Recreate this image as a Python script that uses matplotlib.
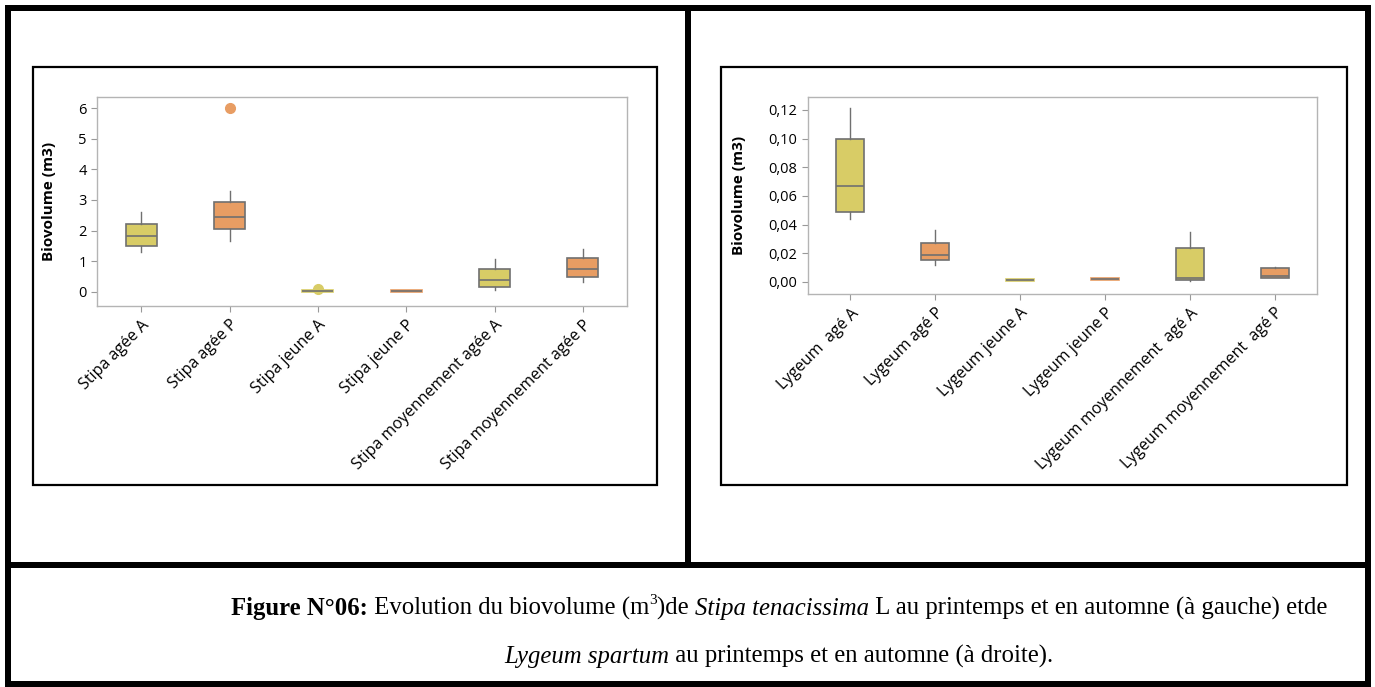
import matplotlib
matplotlib.use("Agg")
import matplotlib.pyplot as plt
from matplotlib.patches import Rectangle

plt.rcParams['font.family'] = ['Open Sans', 'DejaVu Sans']

# Stipa tenacissima : biovolume (m3) par classe d'âge et saison
stipa_labels = ["Stipa agée A", "Stipa agée P", "Stipa jeune A", "Stipa jeune P",
                "Stipa moyennement agée A", "Stipa moyennement agée P"]
stipa_whislo = [1.30, 1.65, 0.00, 0.00, 0.07, 0.33]
stipa_q1 = [1.50, 2.05, 0.00, 0.00, 0.15, 0.50]
stipa_med = [1.83, 2.45, 0.02, 0.02, 0.40, 0.75]
stipa_q3 = [2.20, 2.93, 0.05, 0.05, 0.75, 1.12]
stipa_whishi = [2.60, 3.30, 0.05, 0.05, 1.08, 1.40]
stipa_fliers = [[], [6.0], [0.10], [], [], []]

# Lygeum spartum : biovolume (m3)
lygeum_labels = ["Lygeum  agé A", "Lygeum agé P", "Lygeum jeune A", "Lygeum jeune P",
                 "Lygeum moyennement  agé A", "Lygeum moyennement  agé P"]
lygeum_whislo = [0.044, 0.012, 0.0005, 0.0012, 0.0010, 0.0030]
lygeum_q1 = [0.049, 0.015, 0.0005, 0.0012, 0.0015, 0.0030]
lygeum_med = [0.067, 0.019, 0.0012, 0.0020, 0.0030, 0.0040]
lygeum_q3 = [0.100, 0.027, 0.0020, 0.0028, 0.0240, 0.0100]
lygeum_whishi = [0.121, 0.036, 0.0020, 0.0028, 0.0350, 0.0105]
lygeum_fliers = [[], [], [], [], [], []]

season_colors = ["#d8cc66", "#e89d63"]  # A = automne, P = printemps
W, H = 1375, 687


def px_rect(x0, y0, x1, y1):
    # pixel box (top-left origin) -> figure fraction rect
    return [x0 / W, 1 - y1 / H, (x1 - x0) / W, (y1 - y0) / H]


def draw_box(ax, labels, whislo, q1, med, q3, whishi, fliers, width):
    stats = []
    for i in range(len(labels)):
        stats.append(dict(whislo=whislo[i], q1=q1[i], med=med[i], q3=q3[i],
                          whishi=whishi[i], fliers=fliers[i]))
    bp = ax.bxp(stats, positions=range(len(labels)), widths=width, patch_artist=True,
                showcaps=False,
                boxprops=dict(edgecolor="#707070", linewidth=1.2),
                medianprops=dict(color="#707070", linewidth=1.2),
                whiskerprops=dict(color="#707070", linewidth=1.0))
    for i, box in enumerate(bp['boxes']):
        c = season_colors[i % 2]
        box.set_facecolor(c)
        if q3[i] - q1[i] < (ax.get_ylim()[1] - ax.get_ylim()[0]) * 0.02:
            box.set_edgecolor(c)
        fl = bp['fliers'][i]
        fl.set_marker('o')
        fl.set_markerfacecolor(c)
        fl.set_markeredgecolor(c)
        fl.set_markersize(7)
    ax.set_xticks(range(len(labels)))
    ax.set_xticklabels(labels, rotation=45, ha='right', rotation_mode='anchor',
                       fontsize=11.5)
    ax.set_xlim(-0.5, len(labels) - 0.5)
    ax.set_ylabel("Biovolume (m3)", fontsize=11, fontweight='bold', labelpad=16)
    for s in ax.spines.values():
        s.set_color("#b4b4b4")
        s.set_linewidth(1.0)
    ax.tick_params(colors="#999999", labelcolor="black", length=4)
    ax.tick_params(axis='y', labelsize=10.5)
    ax.tick_params(axis='x', pad=4)


fig = plt.figure(figsize=(W / 100, H / 100), dpi=100)

ax1 = fig.add_axes(px_rect(97, 97, 627, 306))
ax1.set_ylim(-0.46, 6.36)
ax1.set_yticks([0, 1, 2, 3, 4, 5, 6])
draw_box(ax1, stipa_labels, stipa_whislo, stipa_q1, stipa_med, stipa_q3, stipa_whishi,
         stipa_fliers, 0.35)

ax2 = fig.add_axes(px_rect(808, 97, 1317, 294))
ax2.set_ylim(-0.0084, 0.129)
ax2.set_yticks([0, 0.02, 0.04, 0.06, 0.08, 0.10, 0.12])
ax2.set_yticklabels(["0,00", "0,02", "0,04", "0,06", "0,08", "0,10", "0,12"])
draw_box(ax2, lygeum_labels, lygeum_whislo, lygeum_q1, lygeum_med, lygeum_q3,
         lygeum_whishi, lygeum_fliers, 0.33)

# cadres des graphiques
for x0, x1 in [(33, 657), (721, 1347)]:
    fig.add_artist(Rectangle((x0 / W, 1 - 485 / H), (x1 - x0) / W, 418 / H,
                             transform=fig.transFigure, fill=False,
                             edgecolor="black", linewidth=1.6))

# bordures épaisses du tableau
thick = dict(transform=fig.transFigure, color="black", linewidth=0)
for r in [(5, 5, 1371, 11), (5, 681, 1371, 687), (5, 5, 11, 687), (1365, 5, 1371, 687),
          (685, 5, 691, 566), (5, 562, 1371, 568)]:
    fig.add_artist(Rectangle((r[0] / W, 1 - r[3] / H), (r[2] - r[0]) / W,
                             (r[3] - r[1]) / H, **thick))

# légende de la figure, posée morceau par morceau (gras / italique / exposant)
cap_size = 17.85
line1 = [("Figure N°06:", dict(weight='bold'), 0),
         (" Evolution du biovolume (m", {}, 0),
         ("3", dict(size=cap_size * 0.62), 11),
         (")de ", {}, 0),
         ("Stipa tenacissima", dict(style='italic'), 0),
         (" L au printemps et en automne (à gauche) etde", {}, 0)]
line2 = [("Lygeum spartum", dict(style='italic'), 0),
         (" au printemps et en automne (à droite).", {}, 0)]

renderer = fig.canvas.get_renderer()
for pieces, ypx in [(line1, 615), (line2, 663)]:
    texts = []
    for s, kw, dy in pieces:
        props = dict(family='Liberation Serif', size=cap_size)
        props.update(kw)
        t = fig.text(0, (H - ypx + dy) / H, s, ha='left', va='baseline', **props)
        texts.append(t)
    widths = [t.get_window_extent(renderer).width for t in texts]
    x = 779 - sum(widths) / 2
    for t, w in zip(texts, widths):
        t.set_x(x / W)
        x += w

fig.savefig("out.png", dpi=100)
